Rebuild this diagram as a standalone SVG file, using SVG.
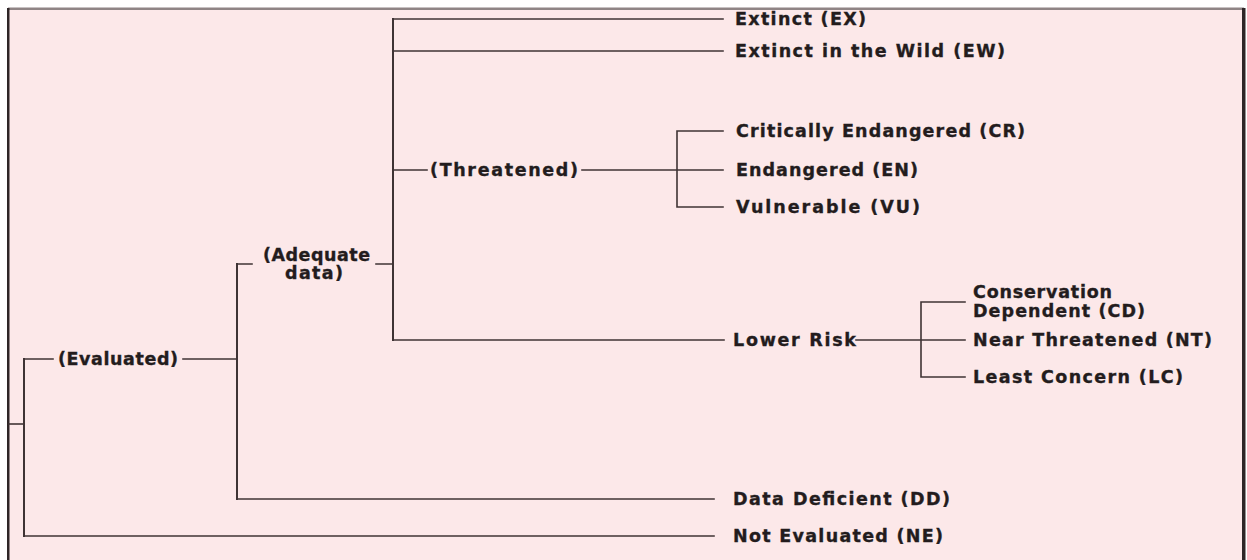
<svg xmlns="http://www.w3.org/2000/svg" width="1247" height="560" viewBox="0 0 1247 560">
<style>
.bg{fill:#fce8e9}
.c{stroke:#3f3334;stroke-width:1.6;fill:none;stroke-linecap:square}
.v{stroke-width:2}
text{font-family:"DejaVu Sans","Liberation Sans",sans-serif;font-weight:bold;font-size:17.5px;fill:#231c1d;stroke:#231c1d;stroke-width:0.35}
</style>
<rect x="0" y="0" width="1247" height="560" fill="#ffffff"/>
<rect class="bg" x="8" y="8" width="1236" height="552"/>
<rect x="8" y="7.5" width="1236" height="2.5" fill="#8f8485"/>
<rect x="7" y="8" width="2.5" height="552" fill="#2e2526"/>
<rect x="1242" y="8" width="3.5" height="552" fill="#2e2526"/>
<g id="connectors">
<path class="c" d="M9 424H24"/>
<path class="c v" d="M24 359V536"/>
<path class="c" d="M24 359H53M183 359H237"/>
<path class="c v" d="M237 264V499"/>
<path class="c" d="M237 264H252M376 264H393"/>
<path class="c v" d="M393 19V340"/>
<path class="c" d="M393 19H723M393 51H723M393 170H427M582 170H723"/>
<path class="c" d="M677 131V207M677 131H723M677 207H723"/>
<path class="c" d="M393 340H724M856 340H965"/>
<path class="c" d="M921 302V377M921 302H965M921 377H965"/>
<path class="c" d="M237 499H714M24 536H714"/>
</g>
<g id="n-ex"><text x="735" y="25" textLength="131" lengthAdjust="spacing">Extinct (EX)</text></g>
<g id="n-ew"><text x="735" y="57" textLength="270" lengthAdjust="spacing">Extinct in the Wild (EW)</text></g>
<g id="n-threatened"><text x="430" y="176" textLength="148" lengthAdjust="spacing">(Threatened)</text></g>
<g id="n-cr"><text x="736" y="137" textLength="289" lengthAdjust="spacing">Critically Endangered (CR)</text></g>
<g id="n-en"><text x="736" y="176" textLength="182" lengthAdjust="spacing">Endangered (EN)</text></g>
<g id="n-vu"><text x="736" y="213" textLength="184" lengthAdjust="spacing">Vulnerable (VU)</text></g>
<g id="n-adequate"><text x="263" y="261" textLength="107" lengthAdjust="spacing">(Adequate</text><text x="285" y="279" textLength="58" lengthAdjust="spacing">data)</text></g>
<g id="n-evaluated"><text x="58" y="365" textLength="120" lengthAdjust="spacing">(Evaluated)</text></g>
<g id="n-lr"><text x="733" y="346" textLength="123" lengthAdjust="spacing">Lower Risk</text></g>
<g id="n-cd"><text x="973" y="298" textLength="139" lengthAdjust="spacing">Conservation</text><text x="973" y="317" textLength="172" lengthAdjust="spacing">Dependent (CD)</text></g>
<g id="n-nt"><text x="973" y="346" textLength="239" lengthAdjust="spacing">Near Threatened (NT)</text></g>
<g id="n-lc"><text x="973" y="383" textLength="210" lengthAdjust="spacing">Least Concern (LC)</text></g>
<g id="n-dd"><text x="733" y="505" textLength="217" lengthAdjust="spacing">Data Deficient (DD)</text></g>
<g id="n-ne"><text x="733" y="542" textLength="210" lengthAdjust="spacing">Not Evaluated (NE)</text></g>
</svg>
